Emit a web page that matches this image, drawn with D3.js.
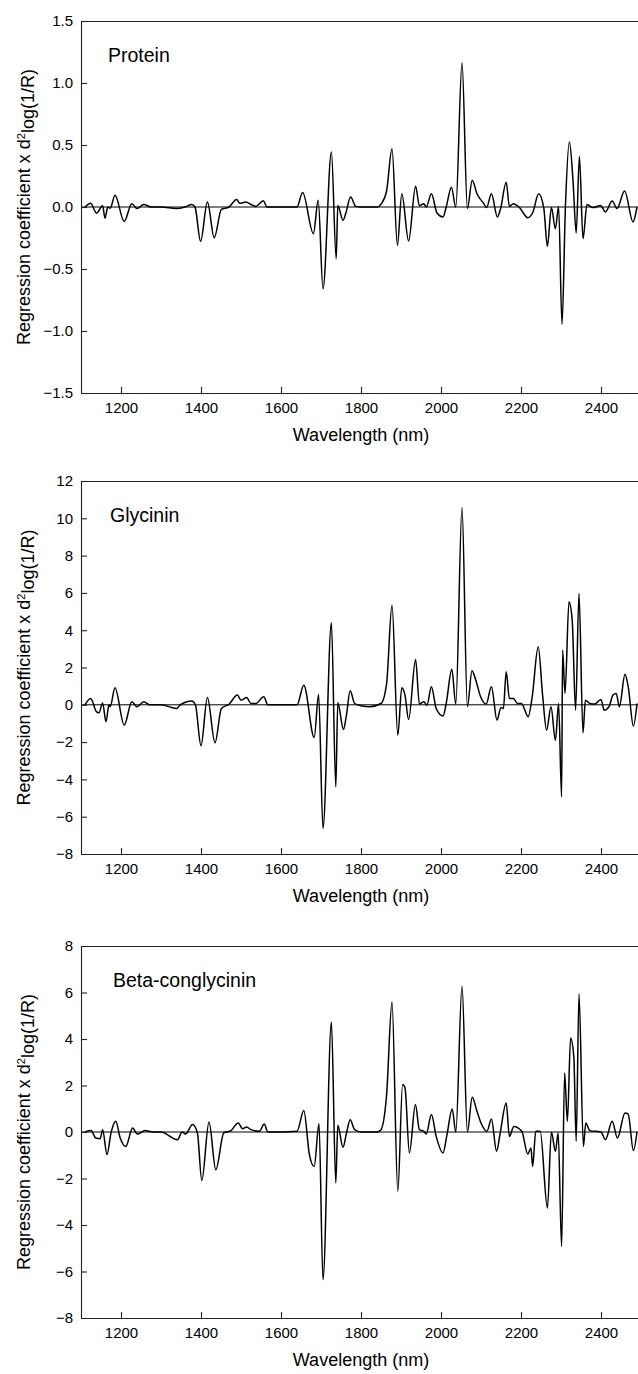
<!DOCTYPE html>
<html lang="en">
<head>
  <meta charset="utf-8" />
  <title>Regression coefficient spectra</title>
  <script src="https://d3js.org/d3.v7.min.js"></script>
  <style>
    body { margin: 0; padding: 0; background: #ffffff; }
    svg text { font-family: Arial, "Liberation Sans", sans-serif; fill: #000; }
    .axis path, .axis line { stroke: #222; stroke-width: 1.1; }
    .axis text { font-size: 15px; }
    .frame { stroke: #222; stroke-width: 1.1; }
    .zero { stroke: #000; stroke-width: 1; }
    .curve { fill: none; stroke: #000; stroke-width: 1.5; stroke-linejoin: round; }
  </style>
</head>
<body>
<div id="chart"></div>
<script>
// ---- data ----
const xTicks = [1200, 1400, 1600, 1800, 2000, 2200, 2400];

const proteinWl = [1110,1124,1139,1154,1160,1167,1173,1185,1208,1227,1240,1257,1275,1300,1339,1360,1377,1385,1399,1416,1433,1451,1470,1489,1497,1512,1525,1537,1556,1565,1600,1640,1654,1681,1693,1705,1726,1738,1742,1755,1762,1774,1787,1800,1840,1851,1864,1877.5,1891,1902,1919,1936.5,1946,1957,1963,1976,1990,2005,2013,2026,2037,2052.5,2066,2078,2090,2107,2114,2126,2141,2149,2163,2171,2181,2195,2217,2230,2244,2257,2266,2276,2286,2294,2302.5,2311,2321,2330,2338,2346,2355,2365,2380,2399,2411,2428,2440,2459,2480,2490];
const proteinVal = [0,0.03,-0.05,0.01,-0.09,0,-0.01,0.094,-0.116,0.027,-0.013,0.02,0,0,-0.013,0,0.02,0,-0.277,0.04,-0.247,-0.02,0,0.06,0.03,0.04,0.02,0.005,0.05,0,0,0,0.116,-0.215,0.055,-0.659,0.444,-0.417,0.013,-0.108,-0.05,0.08,0.005,0,0,0.027,0.13,0.47,-0.31,0.107,-0.274,0.167,0.01,0.027,0,0.107,-0.048,-0.08,0,0.16,0,1.164,-0.013,0.215,0.107,0.027,-0.005,0.107,-0.08,-0.013,0.2,0.005,0.027,0,-0.086,-0.04,0.107,-0.01,-0.317,-0.005,-0.175,0.005,-0.946,0,0.524,0.215,-0.21,0.41,-0.255,0.02,-0.005,0.013,-0.04,0.048,-0.013,0.129,-0.12,0];

const glycininWl = [1110,1124,1139,1145,1154,1162.5,1170,1173,1185,1208,1227,1240,1257,1272,1300,1339,1348,1377,1386,1400,1416,1435,1451,1470,1491,1500,1514,1525,1537,1557,1567,1600,1640,1657,1683,1694,1705,1726,1737,1742,1756,1763,1773,1784,1800,1822,1850,1864,1877.5,1892,1902,1910,1919,1936.5,1946,1957,1965,1976,1988,2005,2013,2027,2037,2052.5,2066,2077.5,2087,2099,2113,2126,2140,2150,2156,2163,2171,2181,2191,2201,2218,2228,2243,2254,2264,2275,2286,2294,2301.5,2304,2310,2320,2328,2336.5,2345,2355,2361,2372,2384,2400,2408,2420,2430,2438,2446,2460,2468,2481,2490];
const glycininVal = [0,0.34,-0.38,-0.43,0.1,-0.91,0,-0.1,0.91,-1.09,0.16,-0.1,0.16,0,0,-0.2,0,0.21,0,-2.2,0.39,-2.04,-0.2,0.03,0.52,0.25,0.39,0.07,0.07,0.43,0,0,0,1.05,-1.75,0.55,-6.63,4.4,-4.4,0.13,-1.32,-0.64,0.75,0.07,-0.05,-0.1,0.07,1.14,5.34,-1.63,0.91,0.52,-0.79,2.43,0.04,0.16,-0.02,0.97,-0.2,-0.6,0.07,1.9,0.04,10.58,-0.1,1.82,1.32,0.43,0.04,0.97,-0.82,-0.14,-0.2,1.77,0.34,0.34,0.07,0.07,-0.64,0.43,3.11,0.52,-1.36,-0.1,-1.9,0.07,-4.93,2.93,0.61,5.52,4.54,-0.29,5.97,-1.5,0.25,0.07,0.04,0.29,-0.29,-0.1,0.52,0.61,-0.1,1.64,0.97,-1.14,0.07];

const betaWl = [1110,1125,1137,1148,1154,1165,1175,1187,1198,1212,1229,1241,1260,1280,1300,1341,1353,1361,1379,1391,1402,1420,1437,1457,1475,1493,1504,1514,1525,1546,1558,1567,1600,1640,1657,1671,1683,1695,1705,1726,1737,1742,1755,1763,1773,1784,1800,1840,1850,1864,1877.5,1892,1904,1910,1921,1936,1946,1957,1963,1976,1988,2005,2015,2028,2037,2052.5,2066,2078,2090,2100,2115,2126,2139,2148,2163,2171,2182,2202,2217,2225,2229,2237,2248,2266,2276,2286,2293,2301.5,2309,2316,2324,2332,2338,2345,2356,2362,2372,2400,2411,2428,2441,2460,2468,2481,2490];
const betaVal = [0,0.06,-0.26,-0.29,0.1,-0.97,-0.04,0.46,-0.26,-0.62,0.17,-0.09,0.06,0,0,-0.33,0,-0.09,0.32,-0.04,-2.09,0.43,-1.62,-0.04,0.06,0.39,0.14,0.21,0.1,0.03,0.34,0,0,0.03,0.93,-0.97,-1.48,0.35,-6.35,4.73,-2.19,0.29,-0.66,-0.11,0.53,0.1,0,0,0.1,1.6,5.59,-2.55,2.04,1.9,-0.9,1.18,0.1,0.03,-0.09,0.75,-0.19,-0.9,-0.11,0.99,0,6.27,0,1.49,0.89,0.39,0.03,0.56,-0.83,-0.04,1.25,-0.19,0.24,0.03,-0.95,-0.69,-1.48,0.03,0.03,-3.27,0,-0.83,-0.04,-4.92,2.54,0.46,4.04,3.25,-0.4,5.94,-0.62,0.39,0.06,0,-0.33,0.46,-0.26,0.82,0.77,-0.8,0];

const panels = [
  { title: "Protein", wl: proteinWl, val: proteinVal, domain: [-1.5, 1.5], ticks: d3.range(-1.5, 1.51, 0.5), fmt: d3.format(".1f"), top: 21, bottom: 393, titleX: 108 },
  { title: "Glycinin", wl: glycininWl, val: glycininVal, domain: [-8, 12], ticks: d3.range(-8, 12.1, 2), fmt: d3.format("d"), top: 481, bottom: 854, titleX: 110 },
  { title: "Beta-conglycinin", wl: betaWl, val: betaVal, domain: [-8, 8], ticks: d3.range(-8, 8.1, 2), fmt: d3.format("d"), top: 946, bottom: 1318, titleX: 113 }
];

// ---- layout ----
const W = 638, H = 1374;
const left = 81, right = 641;

const svg = d3.select("#chart").append("svg")
  .attr("width", W).attr("height", H);

const x = d3.scaleLinear().domain([1100, 2500]).range([left, right]);

panels.forEach(p => {
  const y = d3.scaleLinear().domain(p.domain).range([p.bottom, p.top]);
  const g = svg.append("g");

  // zero line
  g.append("line").attr("class", "zero")
    .attr("x1", left).attr("x2", right)
    .attr("y1", y(0)).attr("y2", y(0));

  // curve
  const pts = p.wl.map((w, i) => [w, p.val[i]]);
  g.append("path").attr("class", "curve")
    .attr("d", d3.line().x(d => x(d[0])).y(d => y(d[1])).curve(d3.curveMonotoneX)(pts));

  // top frame
  g.append("line").attr("class", "frame")
    .attr("x1", left).attr("x2", right)
    .attr("y1", p.top + 0.5).attr("y2", p.top + 0.5);

  // x axis
  g.append("g").attr("class", "axis")
    .attr("transform", `translate(0,${p.bottom})`)
    .call(d3.axisBottom(x).tickValues(xTicks).tickSize(-6).tickPadding(9).tickFormat(d3.format("d")))
    .call(a => a.select(".domain").attr("d", `M${left},0.5H${right}`));

  // y axis
  g.append("g").attr("class", "axis")
    .attr("transform", `translate(${left},0)`)
    .call(d3.axisLeft(y).tickValues(p.ticks).tickSize(-6).tickPadding(8).tickFormat(p.fmt))
    .call(a => a.select(".domain").attr("d", `M0.5,${p.top}V${p.bottom}`));

  // x label
  g.append("text")
    .attr("x", (left + right) / 2).attr("y", p.bottom + 48)
    .attr("text-anchor", "middle").style("font-size", "18px")
    .text("Wavelength (nm)");

  // y label
  const yl = g.append("text")
    .attr("transform", `translate(30,${(p.top + p.bottom) / 2}) rotate(-90)`)
    .attr("text-anchor", "middle").style("font-size", "18px");
  yl.append("tspan").text("Regression coefficient x d");
  yl.append("tspan").attr("dy", "-0.5em").style("font-size", "11px").text("2");
  yl.append("tspan").attr("dy", "0.5em").text("log(1/R)");

  // panel title
  g.append("text")
    .attr("x", p.titleX).attr("y", p.top + 41)
    .style("font-size", "19.5px")
    .text(p.title);
});
</script>
</body>
</html>
